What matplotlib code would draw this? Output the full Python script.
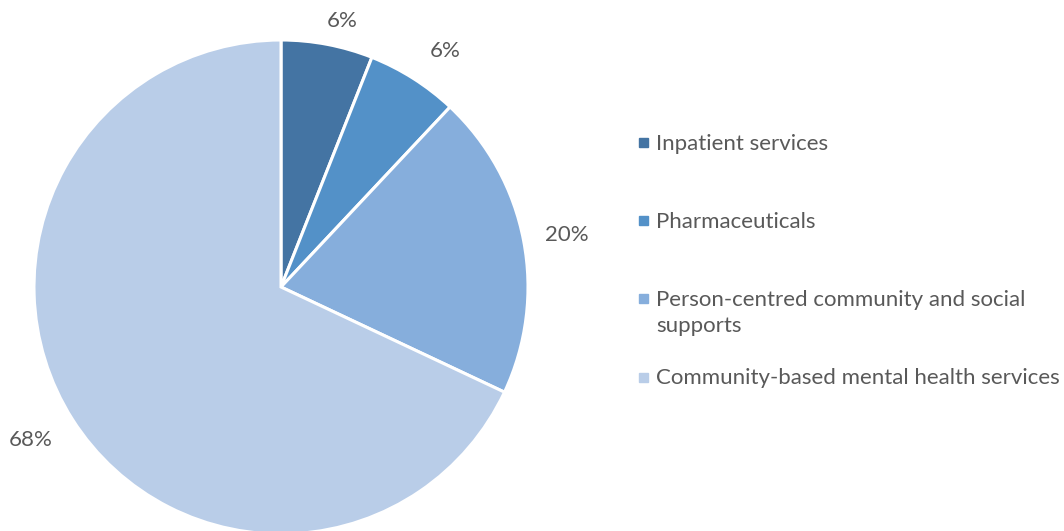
import numpy as np
import matplotlib.pyplot as plt
from matplotlib.patches import Rectangle

# datos
categorias = ['Inpatient services', 'Pharmaceuticals',
              'Person-centred community and social\nsupports',
              'Community-based mental health services']
valores = [6, 6, 20, 68]
etiquetas = ['6%', '6%', '20%', '68%']
colores = ['#4474A3', '#5391C8', '#86AEDC', '#B9CDE8']

plt.rcParams['font.family'] = ['Lato', 'DejaVu Sans']
gris = '#595959'

fig = plt.figure(figsize=(10.64, 5.31), dpi=100)
W, H = 1064, 531
cx, cy, r = 281, 287, 247
ax = fig.add_axes([(cx - r) / W, (H - cy - r) / H, 2 * r / W, 2 * r / H])

wedges, _ = ax.pie(valores, colors=colores, startangle=90, counterclock=False,
                   radius=1, wedgeprops=dict(edgecolor='white', linewidth=2.2))
ax.set_xlim(-1, 1)
ax.set_ylim(-1, 1)
ax.set_aspect('equal')
ax.axis('off')

# etiquetas de porcentaje fuera del borde
dist = [1.105, 1.163, 1.177, 1.187]
ajuste = [-2.2, -2.4, -0.5, -0.9]
for w, txt, d, a in zip(wedges, etiquetas, dist, ajuste):
    ang = np.deg2rad((w.theta1 + w.theta2) / 2 + a)
    ax.text(d * np.cos(ang), d * np.sin(ang), txt, ha='center', va='center',
            fontsize=16, color=gris, clip_on=False)

# leyenda manual
filas_y = [142.5, 220.5, 298.5, 377.5]
for y, cat, col in zip(filas_y, categorias, colores):
    fig.patches.append(Rectangle((639 / W, 1 - (y + 4.5) / H), 9 / W, 9 / H,
                                 transform=fig.transFigure, color=col))
    fig.text(656 / W, 1 - (y - 9) / H, cat, ha='left', va='top',
             fontsize=16, color=gris, linespacing=1.4)

fig.savefig('out.png', dpi=100)
